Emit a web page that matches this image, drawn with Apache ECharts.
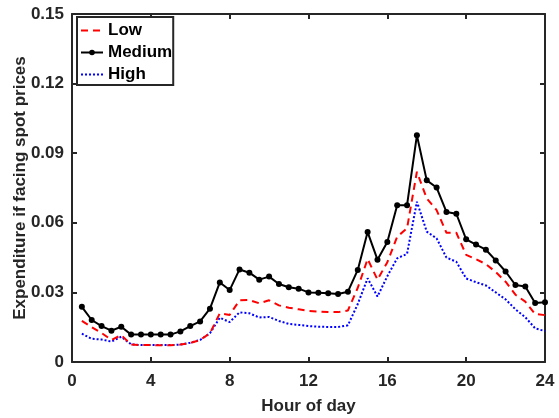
<!DOCTYPE html>
<html>
<head>
<meta charset="utf-8">
<script src="https://cdn.jsdelivr.net/npm/echarts@6/dist/echarts.min.js"></script>
<style>
html,body{margin:0;padding:0;background:#fff;}
#c{width:559px;height:418px;}
</style>
</head>
<body>
<div id="c"></div>
<script>
const hours = [0.5,1,1.5,2,2.5,3,3.5,4,4.5,5,5.5,6,6.5,7,7.5,8,8.5,9,9.5,10,10.5,11,11.5,12,
  12.5,13,13.5,14,14.5,15,15.5,16,16.5,17,17.5,18,18.5,19,19.5,20,20.5,21,21.5,22,22.5,23,23.5,24];
const lowVals = [0.0177,0.0150,0.0125,0.0095,0.0116,0.0075,0.0073,0.0073,0.0072,0.0072,0.0075,0.0082,
  0.0095,0.0124,0.0210,0.0203,0.0266,0.0267,0.0253,0.0266,0.0244,0.0234,0.0227,0.0220,
  0.0217,0.0216,0.0215,0.0222,0.0320,0.0444,0.0355,0.0430,0.0540,0.0576,0.0820,0.0705,
  0.0655,0.0557,0.0557,0.0462,0.0443,0.0422,0.0388,0.0346,0.0290,0.0260,0.0207,0.0202];
const mediumVals = [0.0238,0.0181,0.0155,0.0135,0.0152,0.0118,0.0118,0.0118,0.0118,0.0118,0.0132,0.0155,
  0.0175,0.0230,0.0343,0.0310,0.0399,0.0385,0.0355,0.0368,0.0336,0.0322,0.0316,0.0300,
  0.0299,0.0296,0.0293,0.0303,0.0397,0.0560,0.0441,0.0517,0.0676,0.0676,0.0977,0.0783,
  0.0752,0.0647,0.0639,0.0529,0.0506,0.0484,0.0438,0.0390,0.0332,0.0325,0.0254,0.0258];
const highVals = [0.0122,0.0100,0.0097,0.0088,0.0109,0.0076,0.0073,0.0073,0.0073,0.0073,0.0075,0.0083,
  0.0095,0.0124,0.0191,0.0172,0.0214,0.0210,0.0192,0.0194,0.0177,0.0164,0.0160,0.0155,
  0.0152,0.0151,0.0151,0.0158,0.0250,0.0361,0.0282,0.0370,0.0447,0.0466,0.0691,0.0562,
  0.0533,0.0450,0.0432,0.0360,0.0344,0.0330,0.0300,0.0270,0.0227,0.0193,0.0145,0.0133];
const seriesNames = ['Low','Medium','High'];
const xTitle = 'Hour of day';
const yTitle = 'Expenditure if facing spot prices';

const pairs = vals => hours.map((h, i) => [h, vals[i]]);
const axisColor = '#262626';
const font = 'Liberation Sans, Arial, sans-serif';

const chart = echarts.init(document.getElementById('c'), null, {renderer: 'canvas'});
const xBase = {
  type: 'value', min: 0, max: 24, interval: 4,
  axisLine: {show: true, onZero: false, lineStyle: {color: axisColor, width: 2}},
  axisTick: {show: true, inside: true, length: 5, lineStyle: {color: axisColor, width: 2}},
  splitLine: {show: false}
};
const yBase = {
  type: 'value', min: 0, max: 0.15, interval: 0.03,
  axisLine: {show: true, onZero: false, lineStyle: {color: axisColor, width: 2}},
  axisTick: {show: true, inside: true, length: 5, lineStyle: {color: axisColor, width: 2}},
  splitLine: {show: false}
};
chart.setOption({
  animation: false,
  backgroundColor: '#fff',
  grid: {left: 72, right: 14, top: 14, bottom: 56, containLabel: false, outerBoundsMode: 'none'},
  legend: {
    left: 77, top: 17, orient: 'vertical',
    data: [
      {name: seriesNames[0], itemStyle: {opacity: 0}},
      {name: seriesNames[1]},
      {name: seriesNames[2], itemStyle: {opacity: 0}}
    ],
    itemWidth: 22, itemHeight: 7, itemGap: 5, itemTextGap: 2,
    padding: [5, 1, 2, 3],
    borderColor: axisColor, borderWidth: 2, backgroundColor: '#fff',
    textStyle: {fontFamily: font, fontWeight: 'bold', fontSize: 17, color: '#000', lineHeight: 17}
  },
  xAxis: [
    Object.assign({}, xBase, {
      position: 'bottom',
      name: xTitle, nameLocation: 'middle', nameGap: 36, nameMoveOverlap: false,
      nameTextStyle: {fontFamily: font, fontWeight: 'bold', fontSize: 17, color: axisColor},
      axisLabel: {fontFamily: font, fontWeight: 'bold', fontSize: 17, color: axisColor, margin: 11}
    }),
    Object.assign({}, xBase, {position: 'top', axisLabel: {show: false}})
  ],
  yAxis: [
    Object.assign({}, yBase, {
      position: 'left',
      name: yTitle, nameLocation: 'middle', nameGap: 43, nameMoveOverlap: false,
      nameTextStyle: {fontFamily: font, fontWeight: 'bold', fontSize: 17, color: axisColor},
      axisLabel: {fontFamily: font, fontWeight: 'bold', fontSize: 17, color: axisColor, margin: 8,
        formatter: v => v === 0 ? '0' : v.toFixed(2)}
    }),
    Object.assign({}, yBase, {position: 'right', axisLabel: {show: false}})
  ],
  series: [
    {name: 'Low', type: 'line', data: pairs(lowVals), symbol: 'none',
      lineStyle: {color: '#ff0000', width: 2, type: [7, 5]}, itemStyle: {color: '#ff0000'}, z: 3},
    {name: 'Medium', type: 'line', data: pairs(mediumVals), symbol: 'circle', symbolSize: 6,
      lineStyle: {color: '#000', width: 2}, itemStyle: {color: '#000'}, z: 4},
    {name: 'High', type: 'line', data: pairs(highVals), symbol: 'none',
      lineStyle: {color: '#0000ff', width: 2, type: [2, 2]}, itemStyle: {color: '#0000ff'}, z: 2}
  ]
});
</script>
</body>
</html>
